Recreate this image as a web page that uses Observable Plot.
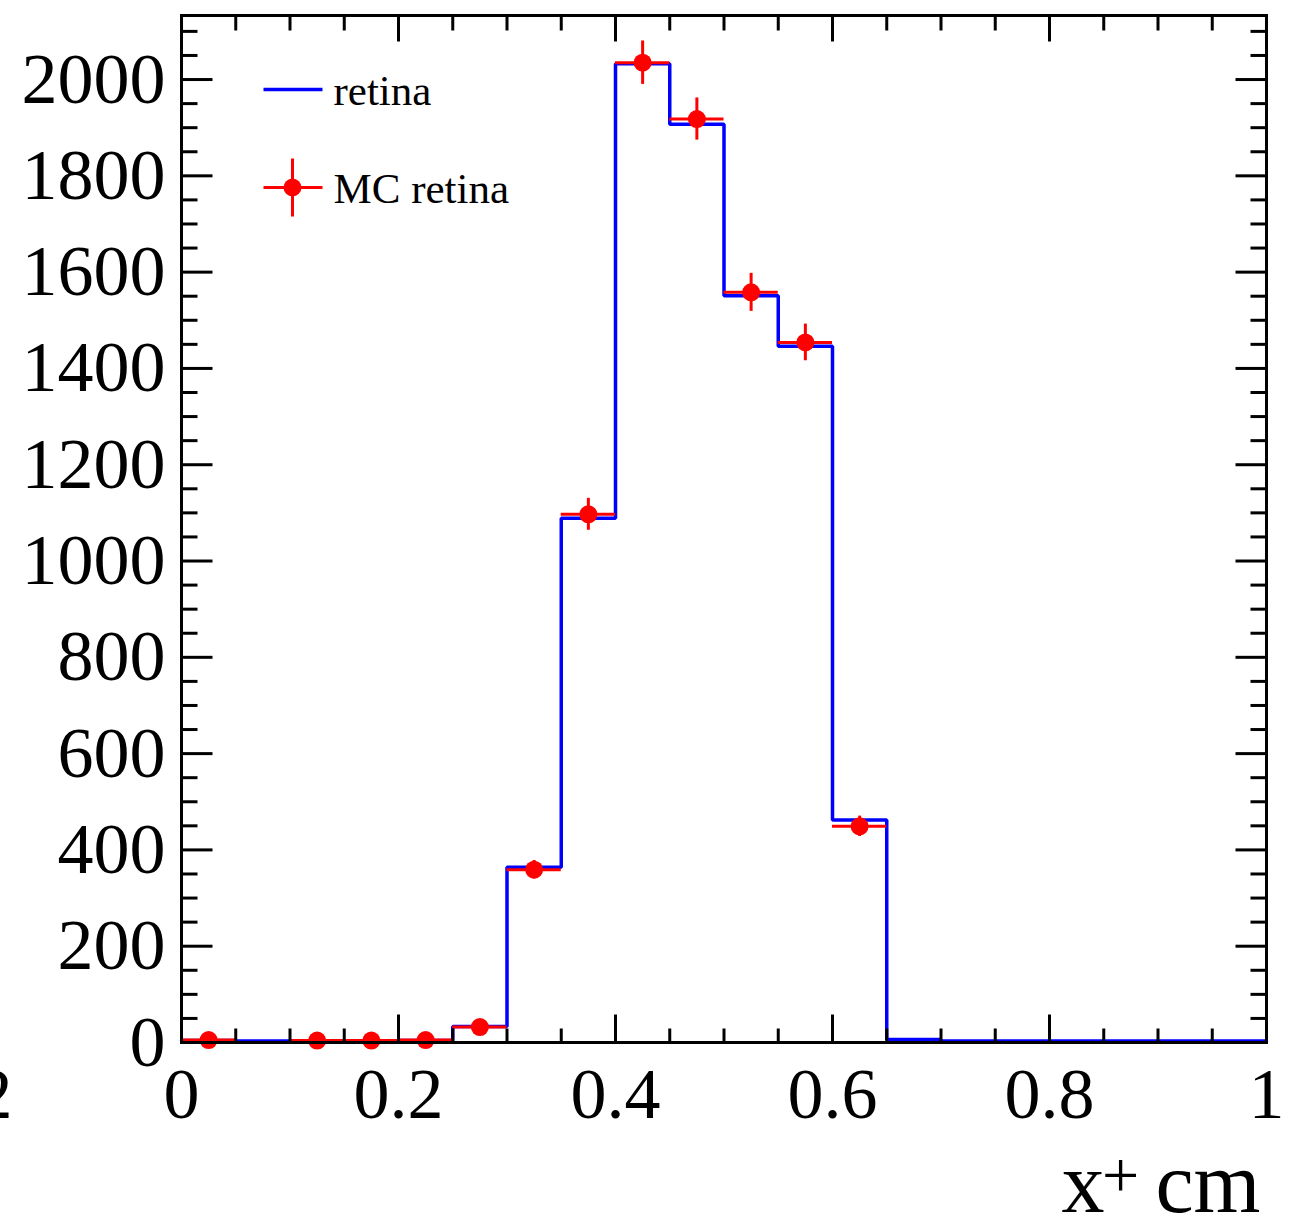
<!DOCTYPE html>
<html>
<head>
<meta charset="utf-8">
<script src="https://cdn.jsdelivr.net/npm/d3@7"></script>
<script src="https://cdn.jsdelivr.net/npm/@observablehq/plot@0.6"></script>
<style>
  html, body { margin: 0; padding: 0; background: #fff; }
  svg { display: block; }
</style>
</head>
<body>
<div id="chart"></div>
<script>
// Bin edges (x⁺ in cm), 20 bins of width 0.05
const binLow  = [0, 0.05, 0.1, 0.15, 0.2, 0.25, 0.3, 0.35, 0.4, 0.45, 0.5, 0.55, 0.6, 0.65, 0.7, 0.75, 0.8, 0.85, 0.9, 0.95];
const binHigh = [0.05, 0.1, 0.15, 0.2, 0.25, 0.3, 0.35, 0.4, 0.45, 0.5, 0.55, 0.6, 0.65, 0.7, 0.75, 0.8, 0.85, 0.9, 0.95, 1];
// "retina" histogram (blue)
const retina = [4, 3, 3, 3, 4, 33, 364, 1089, 2033, 1907, 1551, 1446, 462, 6, 3, 3, 3, 3, 3, 3];
// "MC retina" points (red) with errors; 0 = empty bin (not drawn)
const mcRetina = [5, 0, 4, 4, 5, 32, 359, 1097, 2035, 1918, 1558, 1454, 449, 0, 0, 0, 0, 0, 0, 0];
const mcError  = [2.2, 0, 2, 2, 2.2, 5.7, 19, 33.1, 45.1, 43.8, 39.5, 38.1, 21.2, 0, 0, 0, 0, 0, 0, 0];
// Axis ticks and labels
const xMajor = [0, 0.2, 0.4, 0.6, 0.8, 1];
const xMinor = [0.05, 0.1, 0.15, 0.25, 0.3, 0.35, 0.45, 0.5, 0.55, 0.65, 0.7, 0.75, 0.85, 0.9, 0.95];
const yMajor = [0, 200, 400, 600, 800, 1000, 1200, 1400, 1600, 1800, 2000];
const yMinor = d3.range(50, 2133, 50).filter(v => v % 200 !== 0);
const legendLabels = ["retina", "MC retina"];
const xTitle = ["x", "+", "cm"];

const BLUE = "#0000ff", RED = "#ff0000";
const FONT = "Liberation Serif, Times New Roman, serif";

// step outline for histogram
const steps = [];
retina.forEach((v, i) => { steps.push({x: binLow[i], y: v}); steps.push({x: binHigh[i], y: v}); });
const pts = mcRetina.map((v, i) => ({lo: binLow[i], hi: binHigh[i], c: (binLow[i] + binHigh[i]) / 2, v, e: mcError[i]}))
  .filter(d => d.v > 0);

const tickOpts = {r: 0, anchor: "start", stroke: "black", strokeWidth: 3, strokeLinecap: "butt"};

const chart = Plot.plot({
  width: 1298,
  height: 1215,
  marginLeft: 181,
  marginRight: 32,
  marginTop: 15,
  marginBottom: 173,
  style: {fontFamily: FONT, background: "white"},
  x: {domain: [0, 1], axis: null},
  y: {domain: [0, 2133], axis: null},
  marks: [
    // histogram
    Plot.line(steps, {x: "x", y: "y", stroke: BLUE, strokeWidth: 3.5, strokeLinejoin: "miter"}),
    // MC points with errors
    Plot.ruleY(pts, {y: "v", x1: "lo", x2: "hi", stroke: RED, strokeWidth: 3}),
    Plot.ruleX(pts, {x: "c", y1: d => d.v - d.e, y2: d => d.v + d.e, stroke: RED, strokeWidth: 3}),
    Plot.dot(pts, {x: "c", y: "v", r: 9, fill: RED, stroke: null}),
    // ticks: bottom, top, left, right
    Plot.vector(xMajor, {x: d => d, frameAnchor: "bottom", rotate: 0, length: 28, ...tickOpts}),
    Plot.vector(xMinor, {x: d => d, frameAnchor: "bottom", rotate: 0, length: 14, ...tickOpts}),
    Plot.vector(xMajor, {x: d => d, frameAnchor: "top", rotate: 180, length: 26, ...tickOpts}),
    Plot.vector(xMinor, {x: d => d, frameAnchor: "top", rotate: 180, length: 15, ...tickOpts}),
    Plot.vector(yMajor, {y: d => d, frameAnchor: "left", rotate: 90, length: 31, ...tickOpts}),
    Plot.vector(yMinor, {y: d => d, frameAnchor: "left", rotate: 90, length: 16, ...tickOpts}),
    Plot.vector(yMajor, {y: d => d, frameAnchor: "right", rotate: -90, length: 31, ...tickOpts}),
    Plot.vector(yMinor, {y: d => d, frameAnchor: "right", rotate: -90, length: 16, ...tickOpts}),
    Plot.frame({stroke: "black", strokeWidth: 3}),
    // tick labels
    Plot.text(yMajor, {y: d => d, frameAnchor: "left", dx: -16, textAnchor: "end", lineAnchor: "middle",
      text: d => String(d), fontSize: 72, fill: "black"}),
    Plot.text(xMajor, {x: d => d, frameAnchor: "bottom", dy: 24, textAnchor: "middle", lineAnchor: "top",
      text: d => String(d), fontSize: 72, fill: "black"}),
    // clipped label fragment at far left
    Plot.text(["2"], {frameAnchor: "bottom-left", dx: -169, dy: 24, textAnchor: "end", lineAnchor: "top",
      fontSize: 72, fill: "black"}),
    // axis title x⁺ cm
    Plot.text([xTitle[0]], {frameAnchor: "bottom-right", dx: -162, dy: 169, textAnchor: "end", lineAnchor: "bottom", fontSize: 86, fill: "black"}),
    Plot.text([xTitle[1]], {frameAnchor: "bottom-right", dx: -146, dy: 154, textAnchor: "middle", lineAnchor: "bottom", fontSize: 66, fill: "black"}),
    Plot.text([xTitle[2]], {frameAnchor: "bottom-right", dx: -6, dy: 169, textAnchor: "end", lineAnchor: "bottom", fontSize: 86, fill: "black"}),
    // legend
    Plot.vector([0], {frameAnchor: "top-left", dx: 82, dy: 74, rotate: 90, length: 59, r: 0, anchor: "start",
      stroke: BLUE, strokeWidth: 3.5, strokeLinecap: "butt"}),
    Plot.vector([0], {frameAnchor: "top-left", dx: 82, dy: 172, rotate: 90, length: 59, r: 0, anchor: "start",
      stroke: RED, strokeWidth: 3, strokeLinecap: "butt"}),
    Plot.vector([0], {frameAnchor: "top-left", dx: 111, dy: 172, rotate: 0, length: 58, r: 0, anchor: "middle",
      stroke: RED, strokeWidth: 3, strokeLinecap: "butt"}),
    Plot.dot([0], {frameAnchor: "top-left", dx: 111, dy: 172, r: 9, fill: RED, stroke: null}),
    Plot.text([legendLabels[0]], {frameAnchor: "top-left", dx: 152, dy: 89, textAnchor: "start", lineAnchor: "bottom",
      fontSize: 43, fill: "black"}),
    Plot.text([legendLabels[1]], {frameAnchor: "top-left", dx: 152, dy: 187, textAnchor: "start", lineAnchor: "bottom",
      fontSize: 43, fill: "black"})
  ]
});
document.getElementById("chart").appendChild(chart);
</script>
</body>
</html>
